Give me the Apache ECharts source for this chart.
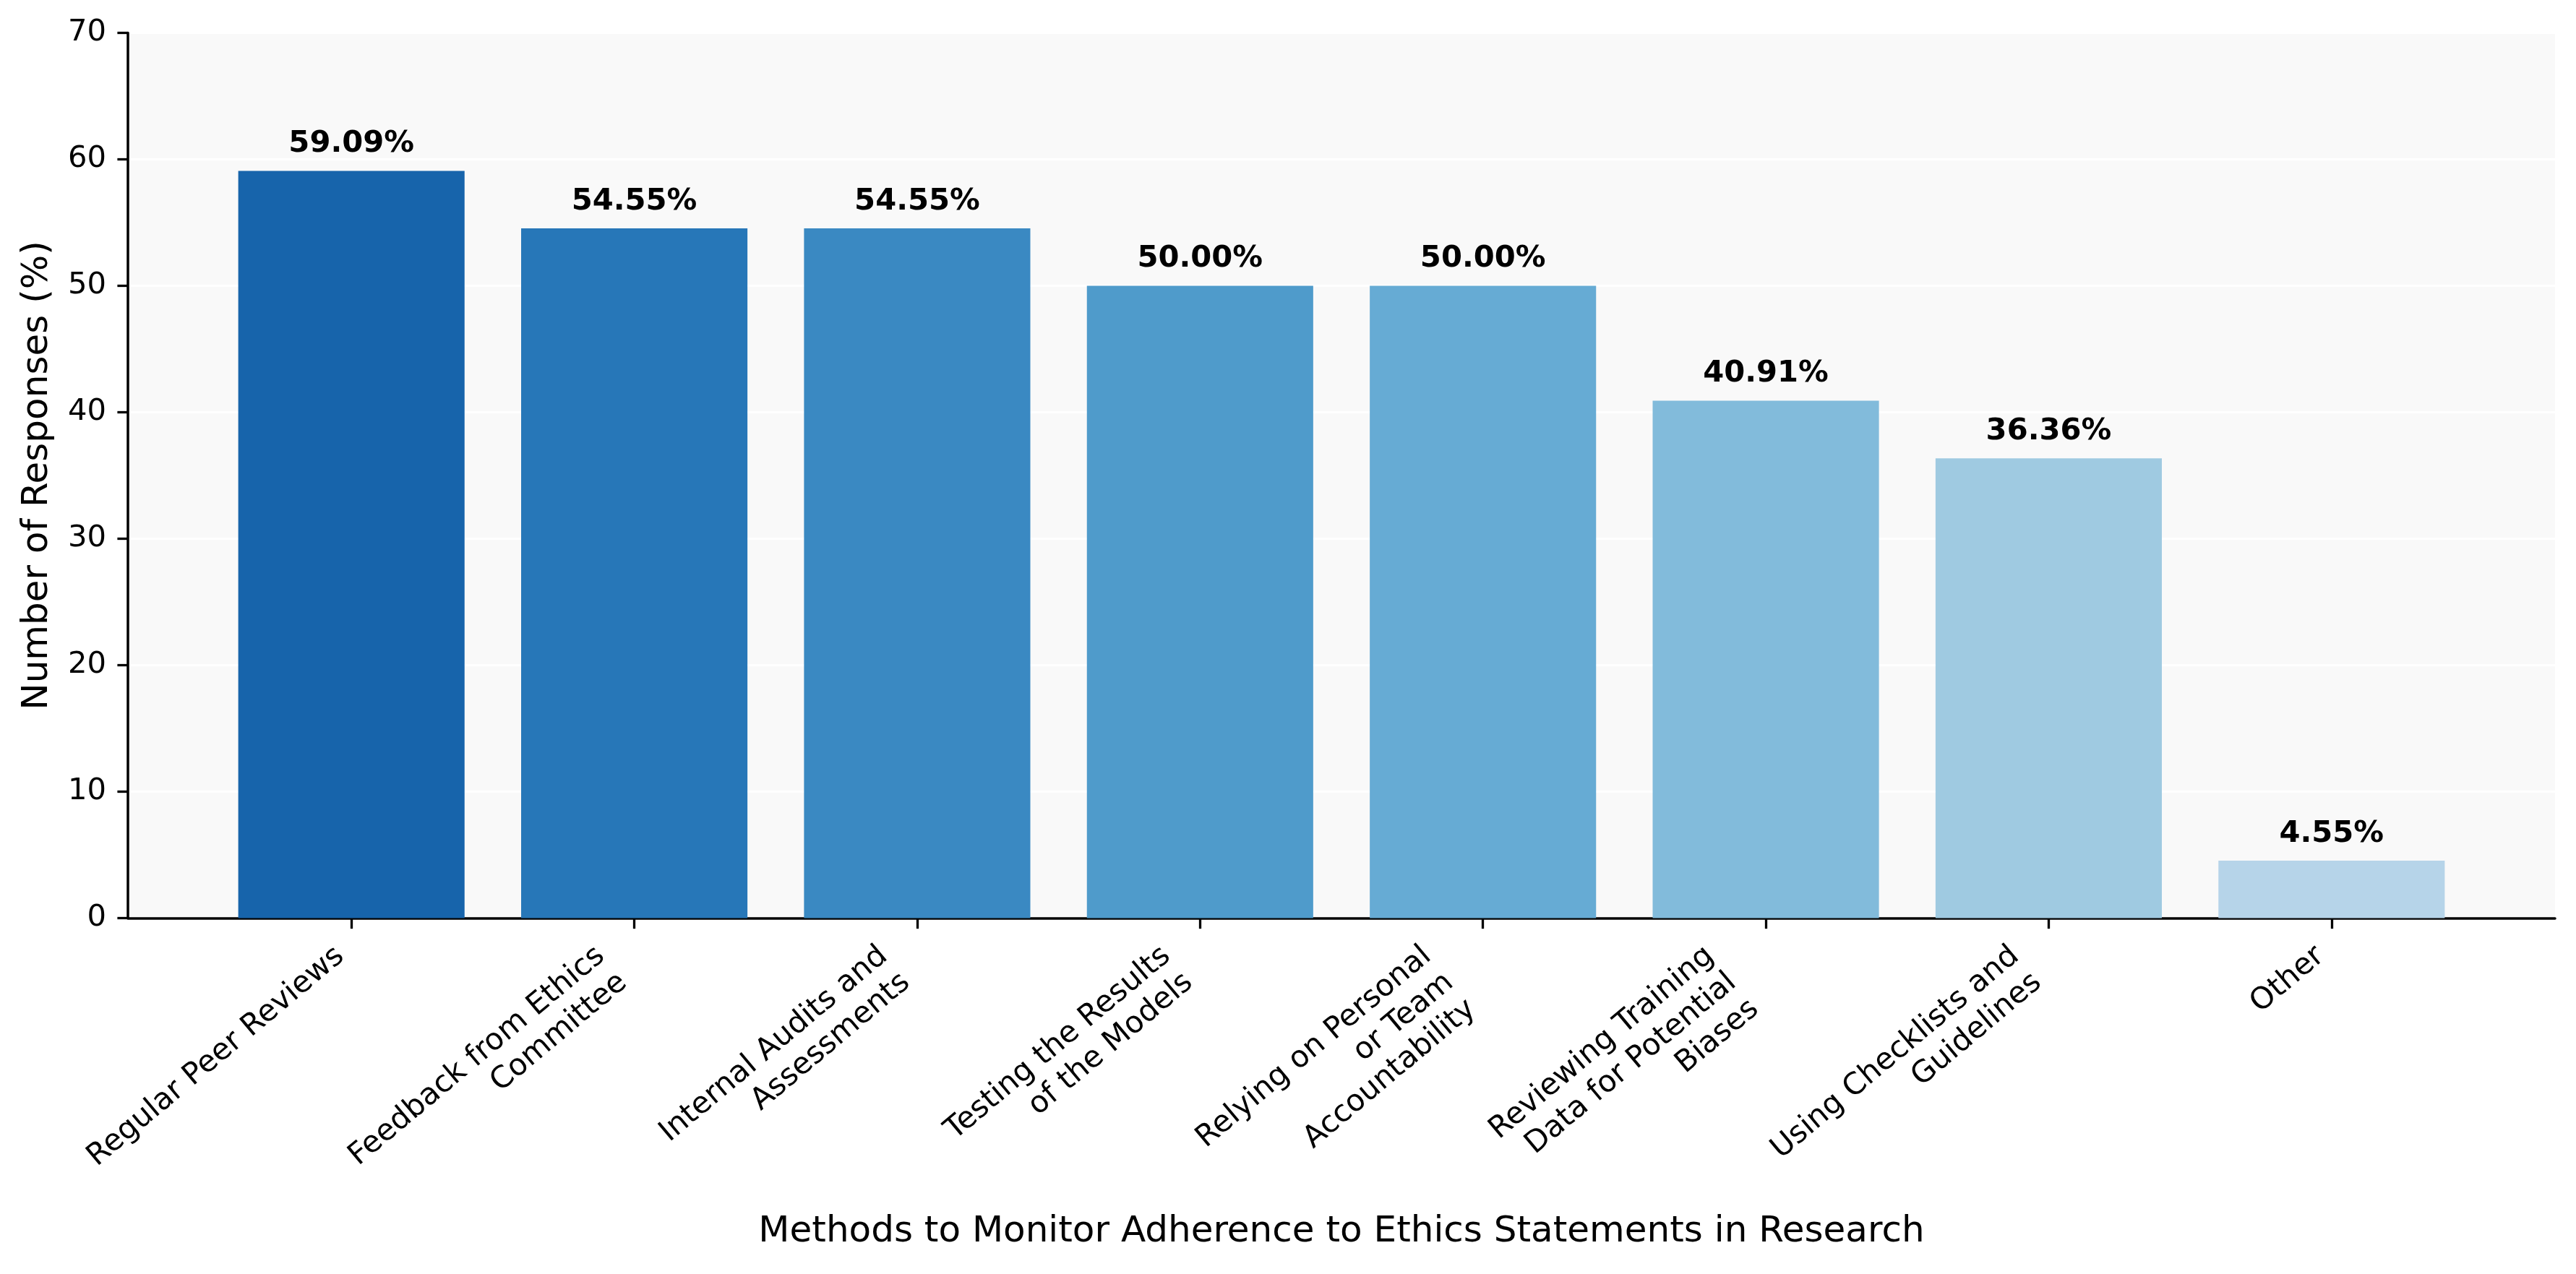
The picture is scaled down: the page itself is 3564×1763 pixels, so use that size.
<!DOCTYPE html>
<html>
<head>
<meta charset="utf-8">
<script src="https://cdn.jsdelivr.net/npm/echarts@6/dist/echarts.min.js"></script>
<style>
html,body{margin:0;padding:0;background:#ffffff;}
#chart{width:3564px;height:1763px;}
</style>
</head>
<body>
<div id="chart"></div>
<script>
// ---- data ----
const categories = [
  "Regular Peer Reviews",
  "Feedback from Ethics\nCommittee",
  "Internal Audits and\nAssessments",
  "Testing the Results\nof the Models",
  "Relying on Personal\nor Team\nAccountability",
  "Reviewing Training\nData for Potential\nBiases",
  "Using Checklists and\nGuidelines",
  "Other"
];
const values = [59.09, 54.55, 54.55, 50.00, 50.00, 40.91, 36.36, 4.55];
const barColors = ["#1764ab", "#2777b8", "#3a89c2", "#4f9bcb", "#66abd4", "#82bbdb", "#9fcae1", "#b6d4e9"];
const yTicks = [0, 10, 20, 30, 40, 50, 60, 70];
const xTitle = "Methods to Monitor Adherence to Ethics Statements in Research";
const yTitle = "Number of Responses (%)";

// ---- layout (matplotlib-like margins) ----
const W = 3564, H = 1763;
const plotLeft = 177, plotRight = 3535, plotTop = 45.5, plotBottom = 1270.6;
const xMin = -0.79, xMax = 7.79;               // matplotlib x limits (5% margin)
const band = (plotRight - plotLeft) / (xMax - xMin);
const inset = (xMin + 0.5) * -band;            // shift so band centers match
const FONT = "DejaVu Sans";
const fs = 41.7;
const LH = 48;

// rich styles emulate matplotlib's rotated bbox anchoring (top-right of block)
function richFor(n) {
  const Hb = n * LH;
  return {fontFamily: FONT, fontSize: fs, lineHeight: LH, color: '#000000',
          padding: [0.173 * Hb, 0.49 * Hb, 0, 0]};
}

const chart = echarts.init(document.getElementById('chart'), null, {renderer: 'canvas', width: W, height: H});

const option = {
  backgroundColor: '#ffffff',
  animation: false,
  textStyle: {fontFamily: FONT},
  grid: [
    {left: plotLeft, right: W - plotRight, top: plotTop, bottom: H - plotBottom,
     show: true, backgroundColor: '#f9f9f9', borderWidth: 0},
    {left: plotLeft + inset, right: W - plotRight + inset, top: plotTop, bottom: H - plotBottom,
     show: false}
  ],
  xAxis: [
    {gridIndex: 0, type: 'value', min: xMin, max: xMax,
     axisLabel: {show: false}, axisTick: {show: false}, splitLine: {show: false},
     axisLine: {show: true, onZero: false, lineStyle: {color: '#000000', width: 3.5}},
     name: xTitle, nameLocation: 'middle', nameGap: 409,
     nameTextStyle: {fontFamily: FONT, fontSize: 50, color: '#000000', lineHeight: 50}},
    {gridIndex: 1, type: 'category', data: categories, boundaryGap: true,
     axisLine: {show: false},
     axisTick: {show: true, alignWithLabel: true, length: 14.6, lineStyle: {color: '#000000', width: 3.3}},
     axisLabel: {show: true, interval: 0, rotate: 40, margin: 29, color: '#000000',
                 fontFamily: FONT, fontSize: fs, lineHeight: LH, align: 'right',
                 formatter: (v) => {
                   const n = v.split('\n').length;
                   return '{r' + n + '|' + v + '}';
                 },
                 rich: {r1: richFor(1), r2: richFor(2), r3: richFor(3)}},
     splitLine: {show: false}}
  ],
  yAxis: [
    {gridIndex: 0, type: 'value', min: 0, max: 70, interval: 10,
     axisLine: {show: true, onZero: false, lineStyle: {color: '#000000', width: 3.5}},
     axisTick: {show: true, length: 14.6, lineStyle: {color: '#000000', width: 3.3}},
     axisLabel: {show: true, margin: 30, color: '#000000', fontFamily: FONT, fontSize: fs,
                 formatter: v => (yTicks.indexOf(v) >= 0 ? String(v) : '')},
     splitLine: {show: true, lineStyle: {color: '#ffffff', width: 3}},
     name: yTitle, nameLocation: 'middle', nameGap: 100,
     nameTextStyle: {fontFamily: FONT, fontSize: 50, color: '#000000', lineHeight: 50}},
    {gridIndex: 1, type: 'value', min: 0, max: 70, interval: 10, show: false,
     axisLine: {onZero: false}, splitLine: {show: false}}
  ],
  series: [{
    type: 'bar',
    xAxisIndex: 1, yAxisIndex: 1,
    barWidth: '80%',
    data: values.map((v, i) => ({value: v, itemStyle: {color: barColors[i]}})),
    label: {
      show: true, position: 'top', distance: 16,
      formatter: p => p.value.toFixed(2) + '%',
      fontFamily: FONT, fontWeight: 'bold', fontSize: fs, lineHeight: 42, color: '#000000'
    },
    z: 3
  }]
};
chart.setOption(option);
</script>
</body>
</html>
